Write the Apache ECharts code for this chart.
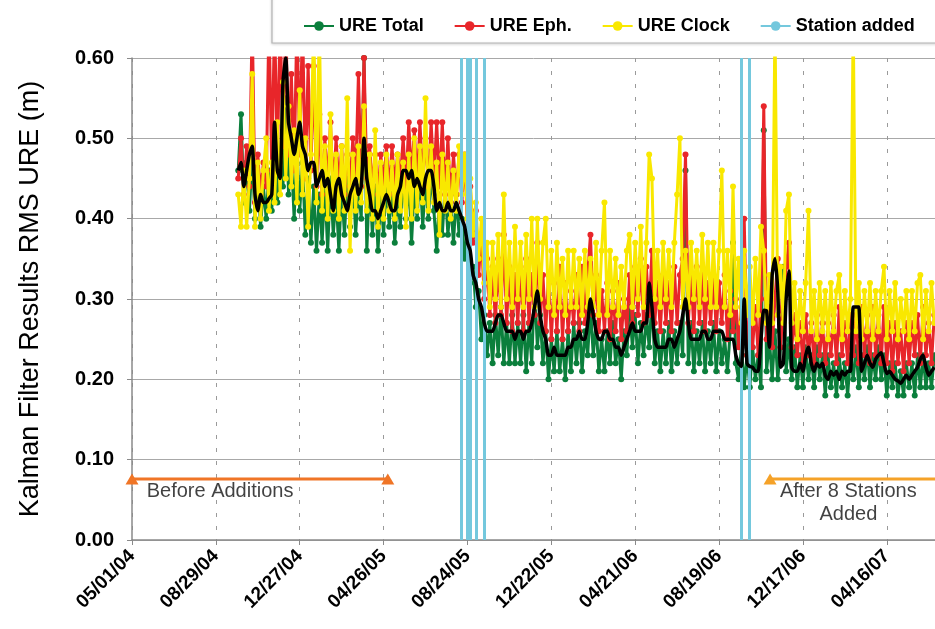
<!DOCTYPE html>
<html>
<head>
<meta charset="utf-8">
<script src="https://cdn.jsdelivr.net/npm/echarts@6/dist/echarts.min.js"></script>
<style>
  html, body { margin: 0; padding: 0; background: #fff; }
  #chart { width: 935px; height: 629px; }
</style>
</head>
<body>
<div id="chart"></div>
<script>
// days counted from 05/01/04, one sample every 4 days
var startDay = 152;
var stepDays = 4;

var xTickLabels = ["05/01/04", "08/29/04", "12/27/04", "04/26/05", "08/24/05",
  "12/22/05", "04/21/06", "08/19/06", "12/17/06", "04/16/07"];

var ureTotal = [
  0.46, 0.53, 0.42, 0.47, 0.41, 0.48, 0.40, 0.45, 0.39, 0.44,
  0.40, 0.46, 0.41, 0.50, 0.42, 0.47, 0.44, 0.55, 0.43, 0.48,
  0.40, 0.49, 0.41, 0.47, 0.38, 0.45, 0.37, 0.44, 0.36, 0.43,
  0.37, 0.44, 0.36, 0.45, 0.38, 0.43, 0.36, 0.44, 0.38, 0.45,
  0.39, 0.46, 0.38, 0.44, 0.40, 0.60, 0.36, 0.45, 0.38, 0.44,
  0.36, 0.43, 0.38, 0.45, 0.39, 0.44, 0.37, 0.43, 0.39, 0.46,
  0.40, 0.45, 0.37, 0.44, 0.40, 0.46, 0.39, 0.45, 0.40, 0.46,
  0.41, 0.36, 0.43, 0.38, 0.44, 0.38, 0.42, 0.37, 0.43, 0.38,
  0.40, 0.35, 0.38, 0.32, 0.34, 0.29, 0.31, 0.25, 0.28, 0.23,
  0.27, 0.22, 0.28, 0.23, 0.29, 0.22, 0.27, 0.22, 0.28, 0.22,
  0.27, 0.22, 0.28, 0.21, 0.27, 0.22, 0.32, 0.24, 0.28, 0.22,
  0.26, 0.20, 0.25, 0.21, 0.26, 0.21, 0.25, 0.20, 0.26, 0.21,
  0.27, 0.22, 0.27, 0.21, 0.26, 0.23, 0.29, 0.23, 0.27, 0.21,
  0.25, 0.21, 0.26, 0.22, 0.27, 0.22, 0.25, 0.20, 0.26, 0.23,
  0.29, 0.24, 0.28, 0.22, 0.27, 0.23, 0.28, 0.24, 0.30, 0.22,
  0.26, 0.21, 0.26, 0.22, 0.27, 0.21, 0.26, 0.22, 0.27, 0.23,
  0.46, 0.22, 0.27, 0.21, 0.26, 0.22, 0.27, 0.21, 0.26, 0.22,
  0.27, 0.21, 0.26, 0.22, 0.25, 0.21, 0.26, 0.37, 0.22, 0.20,
  0.24, 0.19, 0.23, 0.19, 0.24, 0.20, 0.23, 0.19, 0.51, 0.21,
  0.25, 0.20, 0.26, 0.20, 0.24, 0.34, 0.21, 0.25, 0.20, 0.24,
  0.19, 0.23, 0.19, 0.24, 0.20, 0.23, 0.19, 0.24, 0.20, 0.23,
  0.18, 0.23, 0.19, 0.22, 0.18, 0.23, 0.19, 0.22, 0.18, 0.23,
  0.20, 0.24, 0.19, 0.23, 0.20, 0.24, 0.19, 0.23, 0.20, 0.24,
  0.20, 0.23, 0.18, 0.22, 0.19, 0.22, 0.18, 0.21, 0.18, 0.22,
  0.19, 0.22, 0.18, 0.23, 0.19, 0.23, 0.19, 0.22, 0.19, 0.23
];

var ureEph = [
  0.45, 0.50, 0.43, 0.49, 0.44, 0.65, 0.42, 0.48, 0.43, 0.47,
  0.44, 0.65, 0.46, 0.65, 0.47, 0.65, 0.49, 0.65, 0.48, 0.58,
  0.46, 0.65, 0.48, 0.65, 0.45, 0.59, 0.46, 0.59, 0.44, 0.53,
  0.43, 0.50, 0.44, 0.52, 0.43, 0.50, 0.44, 0.49, 0.43, 0.48,
  0.44, 0.50, 0.45, 0.58, 0.44, 0.60, 0.45, 0.49, 0.44, 0.48,
  0.43, 0.48, 0.44, 0.49, 0.43, 0.49, 0.44, 0.48, 0.45, 0.50,
  0.44, 0.52, 0.45, 0.51, 0.44, 0.52, 0.45, 0.50, 0.44, 0.52,
  0.45, 0.52, 0.44, 0.52, 0.43, 0.50, 0.42, 0.48, 0.43, 0.48,
  0.42, 0.48, 0.39, 0.44, 0.37, 0.41, 0.33, 0.38, 0.30, 0.35,
  0.28, 0.34, 0.27, 0.35, 0.28, 0.38, 0.27, 0.34, 0.26, 0.33,
  0.27, 0.34, 0.26, 0.35, 0.27, 0.33, 0.28, 0.37, 0.27, 0.33,
  0.26, 0.33, 0.25, 0.32, 0.26, 0.34, 0.25, 0.32, 0.26, 0.31,
  0.27, 0.33, 0.26, 0.34, 0.27, 0.33, 0.38, 0.28, 0.33, 0.26,
  0.31, 0.26, 0.32, 0.25, 0.31, 0.26, 0.32, 0.25, 0.30, 0.26,
  0.33, 0.27, 0.34, 0.28, 0.35, 0.27, 0.34, 0.28, 0.36, 0.27,
  0.32, 0.26, 0.33, 0.27, 0.32, 0.26, 0.34, 0.27, 0.33, 0.35,
  0.48, 0.27, 0.33, 0.26, 0.34, 0.27, 0.33, 0.26, 0.32, 0.27,
  0.33, 0.26, 0.32, 0.27, 0.33, 0.25, 0.31, 0.26, 0.30, 0.24,
  0.29, 0.40, 0.23, 0.28, 0.24, 0.29, 0.23, 0.30, 0.54, 0.25,
  0.29, 0.24, 0.30, 0.35, 0.24, 0.29, 0.34, 0.37, 0.24, 0.28,
  0.23, 0.27, 0.22, 0.28, 0.23, 0.27, 0.22, 0.28, 0.23, 0.27,
  0.22, 0.27, 0.23, 0.28, 0.22, 0.29, 0.23, 0.27, 0.22, 0.28,
  0.23, 0.28, 0.22, 0.29, 0.23, 0.28, 0.22, 0.29, 0.23, 0.28,
  0.22, 0.29, 0.22, 0.27, 0.21, 0.27, 0.22, 0.26, 0.21, 0.27,
  0.22, 0.27, 0.23, 0.28, 0.22, 0.29, 0.23, 0.27, 0.22, 0.28
];

var ureClock = [
  0.43, 0.39, 0.46, 0.39, 0.45, 0.58, 0.39, 0.47, 0.40, 0.46,
  0.50, 0.41, 0.47, 0.42, 0.52, 0.43, 0.57, 0.45, 0.54, 0.44,
  0.51, 0.42, 0.56, 0.43, 0.50, 0.39, 0.48, 0.65, 0.42, 0.65,
  0.41, 0.49, 0.40, 0.53, 0.41, 0.48, 0.40, 0.49, 0.41, 0.55,
  0.36, 0.48, 0.41, 0.49, 0.42, 0.54, 0.41, 0.48, 0.40, 0.51,
  0.39, 0.47, 0.40, 0.48, 0.41, 0.47, 0.40, 0.48, 0.41, 0.47,
  0.39, 0.48, 0.40, 0.50, 0.41, 0.49, 0.42, 0.55, 0.41, 0.49,
  0.42, 0.47, 0.38, 0.48, 0.41, 0.47, 0.40, 0.46, 0.41, 0.49,
  0.43, 0.48, 0.40, 0.45, 0.38, 0.42, 0.35, 0.40, 0.32, 0.37,
  0.29, 0.37, 0.30, 0.38, 0.29, 0.43, 0.30, 0.37, 0.29, 0.39,
  0.30, 0.37, 0.29, 0.38, 0.30, 0.40, 0.29, 0.40, 0.30, 0.37,
  0.40, 0.29, 0.36, 0.28, 0.37, 0.29, 0.35, 0.28, 0.36, 0.29,
  0.36, 0.29, 0.35, 0.28, 0.36, 0.29, 0.35, 0.29, 0.37, 0.28,
  0.36, 0.42, 0.28, 0.36, 0.29, 0.35, 0.28, 0.34, 0.29, 0.36,
  0.38, 0.29, 0.37, 0.30, 0.39, 0.29, 0.37, 0.48, 0.45, 0.30,
  0.36, 0.29, 0.37, 0.30, 0.36, 0.29, 0.37, 0.43, 0.50, 0.29,
  0.36, 0.29, 0.37, 0.30, 0.36, 0.29, 0.38, 0.30, 0.37, 0.29,
  0.37, 0.29, 0.36, 0.46, 0.29, 0.36, 0.28, 0.44, 0.29, 0.35,
  0.27, 0.36, 0.28, 0.34, 0.27, 0.35, 0.28, 0.39, 0.36, 0.27,
  0.33, 0.27, 0.65, 0.28, 0.34, 0.27, 0.41, 0.43, 0.27, 0.32,
  0.25, 0.31, 0.26, 0.32, 0.41, 0.26, 0.31, 0.25, 0.32, 0.26,
  0.31, 0.25, 0.32, 0.26, 0.31, 0.33, 0.25, 0.31, 0.26, 0.30,
  0.65, 0.26, 0.32, 0.25, 0.31, 0.26, 0.32, 0.25, 0.31, 0.26,
  0.31, 0.34, 0.25, 0.31, 0.26, 0.32, 0.25, 0.30, 0.26, 0.31,
  0.25, 0.31, 0.26, 0.32, 0.33, 0.25, 0.31, 0.26, 0.32, 0.27
];

// running average drawn as the thick black line
var ureAverage = [
  0.46, 0.47, 0.44, 0.46, 0.48, 0.49, 0.43, 0.41, 0.43, 0.42,
  0.42, 0.425, 0.43, 0.52, 0.46, 0.45, 0.57, 0.60, 0.52, 0.50,
  0.48, 0.50, 0.52, 0.49, 0.48, 0.46, 0.47, 0.47, 0.44, 0.45,
  0.46, 0.44, 0.45, 0.43, 0.41, 0.44, 0.45, 0.43, 0.42, 0.41,
  0.43, 0.44, 0.45, 0.43, 0.44, 0.50, 0.45, 0.43, 0.41, 0.41,
  0.40, 0.41, 0.42, 0.43, 0.42, 0.41, 0.41, 0.43, 0.44, 0.46,
  0.46, 0.45, 0.46, 0.44, 0.45, 0.44, 0.43, 0.45, 0.46, 0.46,
  0.44, 0.41, 0.42, 0.41, 0.41, 0.42, 0.41, 0.41, 0.42, 0.41,
  0.40, 0.39, 0.37, 0.36, 0.33, 0.32, 0.30, 0.29, 0.27, 0.26,
  0.26, 0.26, 0.27, 0.28, 0.28, 0.27, 0.26, 0.26, 0.26, 0.25,
  0.26, 0.26, 0.25, 0.26, 0.26, 0.27, 0.29, 0.31, 0.28, 0.26,
  0.25, 0.23, 0.23, 0.24, 0.23, 0.23, 0.23, 0.23, 0.24, 0.24,
  0.25, 0.25, 0.26, 0.25, 0.25, 0.27, 0.30, 0.28, 0.26, 0.25,
  0.25, 0.26, 0.26, 0.25, 0.25, 0.24, 0.24, 0.23, 0.24, 0.25,
  0.26, 0.27, 0.26, 0.26, 0.26, 0.27, 0.27, 0.32, 0.29, 0.25,
  0.24, 0.24, 0.24, 0.24, 0.25, 0.25, 0.24, 0.25, 0.26, 0.28,
  0.30, 0.27, 0.25, 0.25, 0.25, 0.25, 0.26, 0.26, 0.25, 0.25,
  0.26, 0.26, 0.26, 0.26, 0.25, 0.25, 0.25, 0.25, 0.23, 0.22,
  0.216, 0.30, 0.22, 0.216, 0.215, 0.21, 0.21, 0.25, 0.286, 0.285,
  0.24, 0.33, 0.35, 0.31, 0.215, 0.22, 0.30, 0.335, 0.215, 0.21,
  0.21, 0.22, 0.21, 0.23, 0.24, 0.22, 0.21, 0.22, 0.215, 0.22,
  0.205, 0.20, 0.21, 0.205, 0.21, 0.20, 0.21, 0.205, 0.21, 0.21,
  0.29, 0.29, 0.29, 0.21, 0.22, 0.23, 0.22, 0.215, 0.225, 0.23,
  0.233, 0.22, 0.207, 0.21, 0.205, 0.20, 0.198, 0.195, 0.20, 0.205,
  0.20, 0.205, 0.21, 0.215, 0.225, 0.23, 0.215, 0.205, 0.21, 0.215
];

var stationDays = [471, 480, 484, 493, 504, 872, 883];

var arrowLevel = 0.076;
var beforeSpan = [0, 366];
var afterSpan = [913, 1165];

var notes = [
  { name: "Before Additions", value: [21, 0.061], align: "left" },
  { name: "After 8 Stations\nAdded", value: [1025, 0.046], align: "center" }
];

var font = "Liberation Sans, Arial, Helvetica, sans-serif";

function pairs(values) {
  return values.map(function (v, i) {
    return [startDay + i * stepDays, v];
  });
}

function dotSeries(name, values, color, z) {
  return {
    name: name,
    type: "line",
    data: pairs(values),
    symbol: "circle",
    symbolSize: 6,
    showAllSymbol: true,
    lineStyle: { color: color, width: 3 },
    itemStyle: { color: color },
    z: z
  };
}

var myChart = echarts.init(document.getElementById("chart"));

var option = {
  animation: false,
  textStyle: { fontFamily: font },
  graphic: [
    {
      type: "rect",
      z: 0,
      shape: { x: 272, y: -4, width: 680, height: 47 },
      style: { fill: "#fff", stroke: "#b4b4b4", lineWidth: 1.2,
        shadowColor: "rgba(0,0,0,0.15)", shadowBlur: 3, shadowOffsetY: 1 }
    }
  ],
  legend: {
    data: ["URE Total", "URE Eph.", "URE Clock", "Station added"],
    left: 298,
    top: 12,
    itemWidth: 30,
    itemHeight: 12,
    itemGap: 30,
    textStyle: { fontFamily: font, fontSize: 18, fontWeight: "bold", color: "#000" }
  },
  grid: { left: 132, top: 58, right: 0, bottom: 89 },
  xAxis: {
    type: "value",
    min: 0,
    max: 1149,
    interval: 120,
    axisLine: { lineStyle: { color: "#8a8a8a", width: 1.5 } },
    axisTick: { length: 5, lineStyle: { color: "#8a8a8a" } },
    axisLabel: {
      rotate: 45,
      margin: 13,
      fontSize: 19,
      fontWeight: "bold",
      color: "#000",
      showMaxLabel: false,
      formatter: function (v) {
        return v % 120 === 0 ? (xTickLabels[v / 120] || "") : "";
      }
    },
    splitLine: { show: true, lineStyle: { color: "#9a9a9a", type: [4, 9] } }
  },
  yAxis: {
    type: "value",
    min: 0,
    max: 0.6,
    interval: 0.1,
    name: "Kalman Filter Results RMS URE (m)",
    nameLocation: "middle",
    nameGap: 88,
    nameTextStyle: { fontSize: 27, color: "#000" },
    axisLine: { show: true, lineStyle: { color: "#8a8a8a", width: 1.5 } },
    axisTick: { show: true, length: 5, lineStyle: { color: "#8a8a8a" } },
    axisLabel: {
      margin: 18,
      fontSize: 20,
      fontWeight: "bold",
      color: "#000",
      formatter: function (v) { return v.toFixed(2); }
    },
    splitLine: { lineStyle: { color: "#a8a8a8", width: 1 } }
  },
  series: [
    dotSeries("URE Total", ureTotal, "#0b7f3c", 2),
    dotSeries("URE Eph.", ureEph, "#e8262a", 3),
    dotSeries("URE Clock", ureClock, "#f9e800", 4),
    {
      name: "Average",
      type: "line",
      data: pairs(ureAverage),
      symbol: "none",
      smooth: 0.2,
      lineStyle: { color: "#000", width: 3.5 },
      itemStyle: { color: "#000" },
      z: 5
    },
    {
      name: "Station added",
      type: "line",
      data: [],
      symbol: "none",
      lineStyle: { color: "#74c8dd", width: 3 },
      itemStyle: { color: "#74c8dd" },
      z: 6,
      markLine: {
        silent: true,
        symbol: ["none", "none"],
        label: { show: false },
        lineStyle: { color: "#74c8dd", width: 3, type: "solid" },
        data: stationDays.map(function (d) { return { xAxis: d }; })
      }
    },
    {
      name: "Before",
      type: "line",
      data: beforeSpan.map(function (d) { return [d, arrowLevel]; }),
      symbol: "triangle",
      symbolSize: [13, 11],
      lineStyle: { color: "#f07526", width: 3 },
      itemStyle: { color: "#f07526" },
      z: 6
    },
    {
      name: "After",
      type: "line",
      data: afterSpan.map(function (d) { return [d, arrowLevel]; }),
      symbol: "triangle",
      symbolSize: [13, 11],
      lineStyle: { color: "#f5a228", width: 3 },
      itemStyle: { color: "#f5a228" },
      z: 6
    },
    {
      name: "Notes",
      type: "scatter",
      symbolSize: 0,
      data: notes.map(function (n) {
        return {
          name: n.name,
          value: n.value,
          label: { align: n.align }
        };
      }),
      label: {
        show: true,
        position: [0, 0],
        verticalAlign: "middle",
        formatter: function (p) { return p.name; },
        fontSize: 20,
        lineHeight: 23,
        color: "#111"
      },
      z: 7
    }
  ]
};

if (option && typeof option === "object") {
  myChart.setOption(option);
}
</script>
</body>
</html>
